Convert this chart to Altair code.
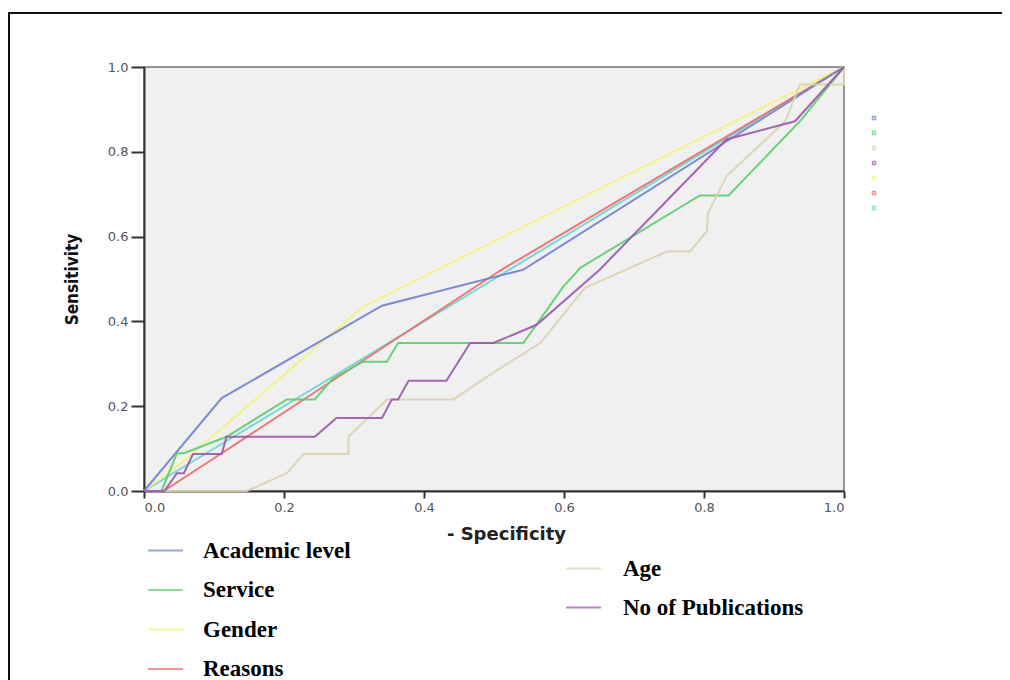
import altair as alt
import pandas as pd

# ---- data ----
academic_x = [0.0, 0.111, 0.340, 0.542, 1.0]
academic_y = [0.0, 0.219, 0.437, 0.522, 1.0]

gender_x = [0.0, 0.06, 0.313, 1.0]
gender_y = [0.0, 0.075, 0.435, 1.0]

reasons_x = [0.0, 0.028, 0.111, 0.509, 1.0]
reasons_y = [0.0, 0.0, 0.089, 0.520, 1.0]

reference_x = [0.0, 1.0]
reference_y = [0.0, 1.0]

service_x = [0.0, 0.025, 0.047, 0.057, 0.118, 0.204, 0.244, 0.270, 0.313, 0.347,
             0.363, 0.542, 0.599, 0.623, 0.794, 0.835, 0.937, 1.0]
service_y = [0.0, 0.0, 0.089, 0.089, 0.128, 0.216, 0.216, 0.266, 0.305, 0.305,
             0.349, 0.349, 0.482, 0.526, 0.697, 0.697, 0.872, 1.0]

pubs_x = [0.0, 0.029, 0.047, 0.057, 0.070, 0.111, 0.118, 0.244, 0.275, 0.340, 0.354,
          0.363, 0.378, 0.432, 0.466, 0.499, 0.561, 0.651, 0.832, 0.930, 1.0]
pubs_y = [0.0, 0.0, 0.042, 0.042, 0.087, 0.087, 0.128, 0.128, 0.172, 0.172, 0.216,
          0.216, 0.260, 0.260, 0.349, 0.349, 0.392, 0.522, 0.829, 0.872, 1.0]

age_x = [0.0, 0.147, 0.204, 0.228, 0.292, 0.292, 0.347, 0.442, 0.494, 0.566, 0.630,
         0.747, 0.780, 0.804, 0.806, 0.832, 0.916, 0.937, 1.0, 1.0]
age_y = [0.0, 0.0, 0.042, 0.087, 0.087, 0.128, 0.216, 0.216, 0.274, 0.349, 0.479,
         0.565, 0.565, 0.612, 0.656, 0.742, 0.872, 0.959, 0.959, 1.0]

left_names = ["Academic level", "Service", "Gender", "Reasons"]
right_names = ["Age", "No of Publications"]
all_names = ["Academic level", "Service", "Age", "No of Publications",
             "Gender", "Reasons", "Reference Line"]
colors = {
    "Academic level": "#7080cc",
    "Service": "#5ccc6e",
    "Gender": "#f2f27e",
    "Reasons": "#f06868",
    "Age": "#d9d2b0",
    "No of Publications": "#9a58ab",
    "Reference Line": "#6cd4d4",
}
tick_values = [0.0, 0.2, 0.4, 0.6, 0.8, 1.0]

series = {
    "Reference Line": (reference_x, reference_y),
    "Age": (age_x, age_y),
    "Gender": (gender_x, gender_y),
    "Reasons": (reasons_x, reasons_y),
    "Academic level": (academic_x, academic_y),
    "Service": (service_x, service_y),
    "No of Publications": (pubs_x, pubs_y),
}
rows = []
for name, (xs, ys) in series.items():
    for i, (xv, yv) in enumerate(zip(xs, ys)):
        rows.append({"series": name, "fpr": xv, "tpr": yv, "i": i})
df = pd.DataFrame(rows)

W, H = 700, 424

x_enc = alt.X("fpr:Q", scale=alt.Scale(domain=[0, 1], nice=False),
              axis=alt.Axis(values=tick_values, format=".1f", grid=False,
                            title="- Specificity", titleFont="DejaVu Sans",
                            titleFontSize=18, titleFontWeight="bold", titleColor="#222",
                            titleX=362, titleY=43, titleBaseline="middle",
                            labelFont="DejaVu Sans", labelFontSize=13, labelColor="#555",
                            labelPadding=3, tickSize=7, tickWidth=2, tickColor="#333",
                            domainColor="#333", domainWidth=2))
y_enc = alt.Y("tpr:Q", scale=alt.Scale(domain=[0, 1], nice=False),
              axis=alt.Axis(values=tick_values, format=".1f", grid=False,
                            title="Sensitivity",
                            titleFont="'Liberation Sans Narrow', 'DejaVu Sans Condensed', 'Liberation Sans', sans-serif",
                            titleFontSize=17, titleFontWeight="bold", titleColor="#111",
                            titleAngle=270, titleX=-72, titleY=H / 2,
                            titleAlign="center", titleBaseline="middle",
                            labelFont="DejaVu Sans", labelFontSize=13, labelColor="#555",
                            labelPadding=3, tickSize=13, tickWidth=2, tickColor="#333",
                            domainColor="#333", domainWidth=2))

base = alt.Chart(df)

frame = alt.Chart(pd.DataFrame({"k": [0]})).mark_rect(
    fill="transparent", stroke="#111", strokeWidth=2
).encode(x=alt.value(-135), x2=alt.value(880), y=alt.value(-54), y2=alt.value(640))

ref_layer = base.transform_filter(
    alt.datum.series == "Reference Line"
).mark_line(strokeWidth=2, opacity=0.9).encode(
    x=x_enc, y=y_enc, order="i:Q",
    color=alt.Color("series:N",
                    scale=alt.Scale(domain=all_names, range=[colors[n] for n in all_names]),
                    legend=alt.Legend(orient="none", legendX=723, legendY=44, title=None,
                                      symbolType="square", symbolSize=9,
                                      symbolStrokeWidth=1.5, symbolOpacity=0.7,
                                      labelFontSize=14, labelOpacity=0, rowPadding=1,
                                      padding=0, labelLimit=5)),
)

left_layer = base.transform_filter(
    alt.FieldOneOfPredicate(field="series", oneOf=left_names)
).mark_line(strokeWidth=2, opacity=0.9).encode(
    x=x_enc, y=y_enc, order="i:Q",
    color=alt.Color("series:N",
                    scale=alt.Scale(domain=left_names, range=[colors[n] for n in left_names]),
                    legend=alt.Legend(orient="none", legendX=3, legendY=465, title=None,
                                      symbolType="stroke", symbolSize=1225,
                                      symbolStrokeWidth=2, symbolOpacity=0.7,
                                      labelFont="Liberation Serif", labelFontSize=23,
                                      labelFontWeight="bold", labelColor="#000",
                                      labelOffset=19, rowPadding=8.5, padding=0,
                                      labelLimit=400)),
)

right_layer = base.transform_filter(
    alt.FieldOneOfPredicate(field="series", oneOf=right_names)
).mark_line(strokeWidth=2, opacity=0.9).encode(
    x=x_enc, y=y_enc, order="i:Q",
    color=alt.Color("series:N",
                    scale=alt.Scale(domain=right_names, range=[colors[n] for n in right_names]),
                    legend=alt.Legend(orient="none", legendX=421, legendY=483, title=None,
                                      symbolType="stroke", symbolSize=1225,
                                      symbolStrokeWidth=2, symbolOpacity=0.7,
                                      labelFont="Liberation Serif", labelFontSize=23,
                                      labelFontWeight="bold", labelColor="#000",
                                      labelOffset=21, rowPadding=8, padding=0,
                                      labelLimit=400)),
)

chart = alt.layer(frame, ref_layer, left_layer, right_layer).resolve_scale(
    color="independent"
).properties(
    width=W, height=H,
    autosize=alt.AutoSizeParams(type="none"),
    padding={"left": 136, "top": 59, "right": 158, "bottom": 189},
    background="white",
).configure_view(fill="#f0f0f0", stroke="#777", strokeWidth=1.5)

chart.save("out.html", embed_options={"renderer": "svg", "actions": False})
